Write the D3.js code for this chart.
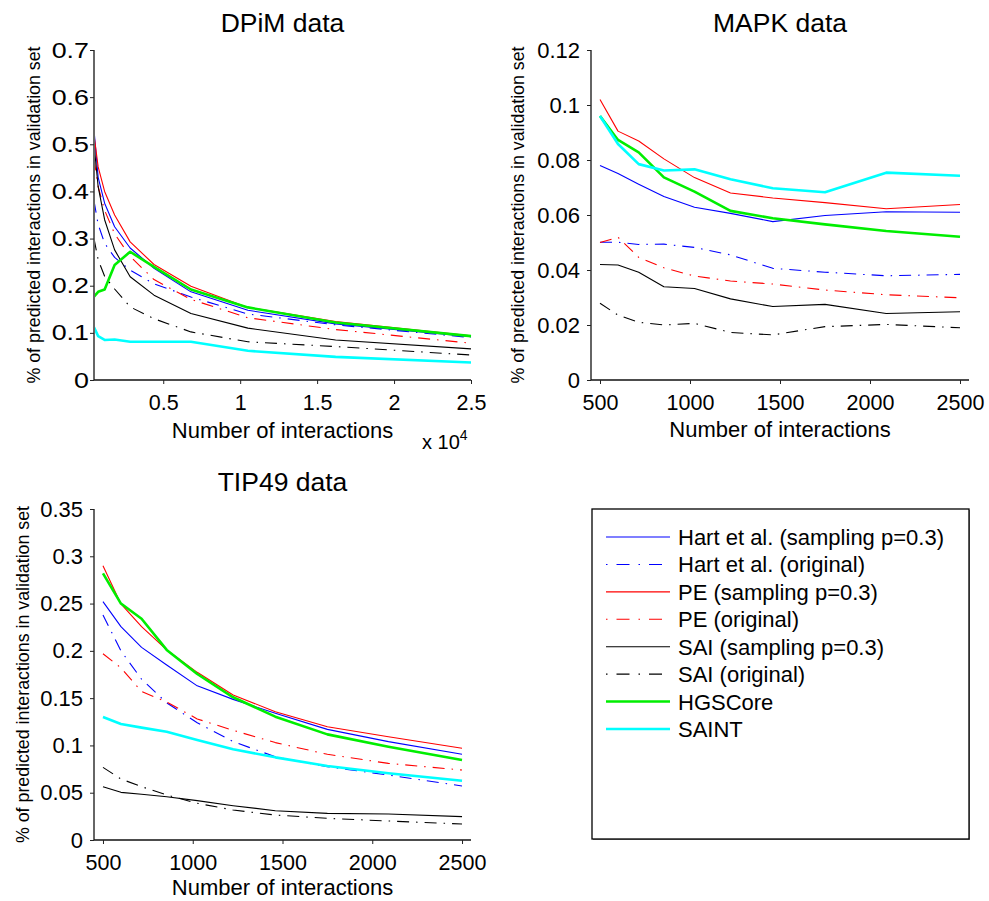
<!DOCTYPE html>
<html><head><meta charset="utf-8">
<script src="https://cdn.jsdelivr.net/npm/d3@7"></script>
<style>
body{margin:0;background:#fff;}
svg{display:block;font-family:"Liberation Sans",Arial,sans-serif;}
</style></head>
<body>
<svg id="chart" width="989" height="901"></svg>
<script>
// ---------- DATA ----------
const seriesNames = ["Hart et al. (sampling p=0.3)","Hart et al. (original)","PE (sampling p=0.3)","PE (original)","SAI (sampling p=0.3)","SAI (original)","HGSCore","SAINT"];

const dpimX = [500, 770, 1190, 1840, 2850, 4400, 6800, 10500, 16200, 25000];
const dpimHartSamp = [0.53, 0.43, 0.375, 0.325, 0.28, 0.237, 0.187, 0.148, 0.119, 0.092];
const dpimHartOrig = [0.38, 0.33, 0.29, 0.26, 0.233, 0.204, 0.176, 0.14, 0.117, 0.09];
const dpimPeSamp   = [0.52, 0.452, 0.40, 0.35, 0.293, 0.245, 0.199, 0.154, 0.124, 0.094];
const dpimPeOrig   = [0.47, 0.41, 0.36, 0.31, 0.262, 0.213, 0.171, 0.132, 0.107, 0.078];
const dpimSaiSamp  = [0.50, 0.41, 0.34, 0.276, 0.219, 0.18, 0.141, 0.110, 0.085, 0.066];
const dpimSaiOrig  = [0.30, 0.255, 0.22, 0.193, 0.155, 0.13, 0.102, 0.081, 0.071, 0.053];
const dpimHgs      = [0.177, 0.187, 0.192, 0.244, 0.272, 0.240, 0.192, 0.154, 0.122, 0.093];
const dpimSaint    = [0.112, 0.093, 0.085, 0.086, 0.081, 0.081, 0.081, 0.062, 0.049, 0.037];
const dpimYTicks = [0, 0.1, 0.2, 0.3, 0.4, 0.5, 0.6, 0.7];
const dpimXTicks = [5000, 10000, 15000, 20000, 25000];

const mapkX = [500, 600, 715, 855, 1025, 1225, 1460, 1750, 2090, 2500];
const mapkHartSamp = [0.078, 0.0751, 0.0712, 0.0667, 0.0628, 0.0606, 0.0576, 0.0598, 0.0612, 0.061];
const mapkHartOrig = [0.0501, 0.0501, 0.0493, 0.0494, 0.0482, 0.0455, 0.0406, 0.0392, 0.0379, 0.0384];
const mapkPeSamp   = [0.102, 0.0905, 0.0869, 0.0804, 0.0736, 0.068, 0.0662, 0.0645, 0.0623, 0.0638];
const mapkPeOrig   = [0.050, 0.0519, 0.0446, 0.0408, 0.0378, 0.036, 0.0349, 0.0327, 0.031, 0.0299];
const mapkSaiSamp  = [0.042, 0.0418, 0.0392, 0.0339, 0.0333, 0.0295, 0.0267, 0.0275, 0.0242, 0.0248];
const mapkSaiOrig  = [0.0279, 0.0236, 0.021, 0.020, 0.0206, 0.0173, 0.0164, 0.0194, 0.0202, 0.019];
const mapkHgs      = [0.096, 0.0873, 0.0828, 0.0737, 0.0685, 0.0615, 0.0588, 0.0566, 0.0542, 0.0521];
const mapkSaint    = [0.096, 0.0858, 0.0785, 0.0762, 0.0766, 0.073, 0.0697, 0.0683, 0.0754, 0.0743];
const mapkYTicks = [0, 0.02, 0.04, 0.06, 0.08, 0.1, 0.12];
const mapkXTicks = [500, 1000, 1500, 2000, 2500];

const tipX = [500, 600, 715, 855, 1025, 1225, 1460, 1750, 2090, 2500];
const tipHartSamp = [0.252, 0.2256, 0.2037, 0.185, 0.163, 0.1487, 0.134, 0.117, 0.104, 0.0906];
const tipHartOrig = [0.238, 0.20, 0.17, 0.145, 0.124, 0.104, 0.088, 0.0775, 0.0687, 0.0571];
const tipPeSamp   = [0.29, 0.2496, 0.2256, 0.201, 0.1773, 0.1533, 0.1357, 0.1198, 0.1092, 0.097];
const tipPeOrig   = [0.197, 0.182, 0.157, 0.146, 0.128, 0.116, 0.103, 0.0906, 0.081, 0.074];
const tipSaiSamp  = [0.0564, 0.0504, 0.0483, 0.0458, 0.0416, 0.0363, 0.031, 0.0282, 0.0275, 0.0247];
const tipSaiOrig  = [0.0768, 0.0645, 0.0564, 0.0476, 0.0388, 0.0317, 0.0264, 0.0229, 0.0201, 0.0169];
const tipHgs      = [0.282, 0.25, 0.234, 0.201, 0.1755, 0.1509, 0.1304, 0.1117, 0.0987, 0.0846];
const tipSaint    = [0.130, 0.1227, 0.1188, 0.1145, 0.1057, 0.0959, 0.0874, 0.0782, 0.0705, 0.0627];
const tipYTicks = [0, 0.05, 0.1, 0.15, 0.2, 0.25, 0.3, 0.35];
const tipXTicks = [500, 1000, 1500, 2000, 2500];

// ---------- STYLES ----------
const DASHDOT = "12,7,1.5,7";
const styles = [
  {color:"#0000ff", dash:null, width:1.1},
  {color:"#0000ff", dash:DASHDOT, width:1.1},
  {color:"#ff0000", dash:null, width:1.1},
  {color:"#ff0000", dash:DASHDOT, width:1.1},
  {color:"#000000", dash:null, width:1.1},
  {color:"#000000", dash:DASHDOT, width:1.1},
  {color:"#00ee00", dash:null, width:2.6},
  {color:"#00ffff", dash:null, width:2.6}
];

const svg = d3.select("#chart");
const FONT = "Liberation Sans, Arial, sans-serif";

function panel(cfg){
  const x = d3.scaleLinear().domain(cfg.xDomain).range([cfg.left, cfg.right]);
  const y = d3.scaleLinear().domain(cfg.yDomain).range([cfg.bottom, cfg.top]);
  const g = svg.append("g");

  const line = d3.line().x(d=>x(d[0])).y(d=>y(d[1]));
  cfg.series.forEach((vals,i)=>{
    const st = styles[i];
    const pts = cfg.xs.map((xv,j)=>[xv, vals[j]]);
    g.append("path").datum(pts)
      .attr("d", line)
      .attr("fill","none")
      .attr("stroke", st.color)
      .attr("stroke-width", st.width)
      .attr("stroke-dasharray", st.dash)
      .attr("stroke-linejoin","round");
  });

  // axes
  const yAxis = d3.axisLeft(y).tickValues(cfg.yTicks).tickSize(4).tickSizeOuter(0).tickPadding(cfg.yPad)
      .tickFormat(d=>String(+d.toFixed(3)));
  const xAxis = d3.axisBottom(x).tickValues(cfg.xTicks).tickSize(4).tickSizeOuter(0).tickPadding(11)
      .tickFormat(cfg.xFormat);
  const ya = g.append("g").attr("transform",`translate(${cfg.left},0)`).call(yAxis);
  const xa = g.append("g").attr("transform",`translate(0,${cfg.bottom})`).call(xAxis);
  ya.select(".domain").attr("stroke",cfg.yAxisColor).attr("stroke-width",cfg.yAxisWidth)
    .attr("d", `M0,${cfg.bottom}V${cfg.top}`);
  xa.select(".domain").attr("stroke","#111").attr("stroke-width",1.3)
    .attr("d", `M${cfg.left},0H${cfg.right}`);
  [ya,xa].forEach(a=>a.selectAll(".tick line").attr("stroke","#222"));
  xa.selectAll(".tick text").attr("font-family",FONT).attr("font-size",21.5).attr("fill","#000");
  ya.selectAll(".tick text").attr("font-family",FONT).attr("font-size",22).attr("fill","#000")
    .attr("x",0).attr("transform",`translate(${-(4+cfg.yPad)},0) scale(${cfg.yStretch},1)`);

  // title
  g.append("text").attr("x",(cfg.left+cfg.right)/2).attr("y",cfg.top-18)
    .attr("text-anchor","middle").attr("font-family",FONT).attr("font-size",26.5)
    .text(cfg.title);
  // x label
  g.append("text").attr("x",(cfg.left+cfg.right)/2).attr("y",cfg.bottom+cfg.xLabOff)
    .attr("text-anchor","middle").attr("font-family",FONT).attr("font-size",22)
    .text("Number of interactions");
  // y label
  g.append("text")
    .attr("transform",`translate(${cfg.yLabX},${(cfg.top+cfg.bottom)/2}) rotate(-90)`)
    .attr("text-anchor","middle").attr("font-family",FONT).attr("font-size",17.8)
    .text("% of predicted interactions in validation set");
  return {g,x,y};
}

const p1 = panel({
  title:"DPiM data", left:94, right:471, top:50, bottom:380,
  xDomain:[500,25000], yDomain:[0,0.7], xs:dpimX,
  series:[dpimHartSamp,dpimHartOrig,dpimPeSamp,dpimPeOrig,dpimSaiSamp,dpimSaiOrig,dpimHgs,dpimSaint],
  yTicks:dpimYTicks, xTicks:dpimXTicks, xFormat:d=>String(d/1e4),
  yPad:1, yStretch:1.22, yLabX:40, xLabOff:58, yAxisColor:"#666", yAxisWidth:2
});
// x 10^4 exponent label
const expT = p1.g.append("text").attr("x",422).attr("y",449).attr("font-family",FONT).attr("font-size",20);
expT.append("tspan").text("x 10");
expT.append("tspan").attr("dy",-9).attr("font-size",14).text("4");

panel({
  title:"MAPK data", left:591, right:969, top:50, bottom:380,
  xDomain:[450,2550], yDomain:[0,0.12], xs:mapkX,
  series:[mapkHartSamp,mapkHartOrig,mapkPeSamp,mapkPeOrig,mapkSaiSamp,mapkSaiOrig,mapkHgs,mapkSaint],
  yTicks:mapkYTicks, xTicks:mapkXTicks, xFormat:d=>String(d),
  yPad:7, yStretch:1, yLabX:524, xLabOff:57, yAxisColor:"#111", yAxisWidth:1.3
});

panel({
  title:"TIP49 data", left:94, right:471, top:509, bottom:840,
  xDomain:[450,2550], yDomain:[0,0.35], xs:tipX,
  series:[tipHartSamp,tipHartOrig,tipPeSamp,tipPeOrig,tipSaiSamp,tipSaiOrig,tipHgs,tipSaint],
  yTicks:tipYTicks, xTicks:tipXTicks, xFormat:d=>String(d),
  yPad:7, yStretch:1, yLabX:29, xLabOff:55, yAxisColor:"#666", yAxisWidth:2
});

// ---------- LEGEND ----------
const lg = svg.append("g");
lg.append("rect").attr("x",593).attr("y",510).attr("width",377).attr("height",330)
  .attr("fill","#888");
lg.append("rect").attr("x",592).attr("y",509).attr("width",377).attr("height",330)
  .attr("fill","#fff").attr("stroke","#000").attr("stroke-width",1.3);
const rowY = d3.scaleLinear().domain([0, seriesNames.length-1]).range([537, 729]);
seriesNames.forEach((name,i)=>{
  const st = styles[i];
  const yy = rowY(i);
  lg.append("line").attr("x1",606).attr("x2",670).attr("y1",yy).attr("y2",yy)
    .attr("stroke",st.color).attr("stroke-width",st.width)
    .attr("stroke-dasharray", st.dash ? "1.5,9,13,9" : null);
  lg.append("text").attr("x",678).attr("y",yy+8).attr("font-family",FONT).attr("font-size",22)
    .text(name);
});
</script>
</body></html>
